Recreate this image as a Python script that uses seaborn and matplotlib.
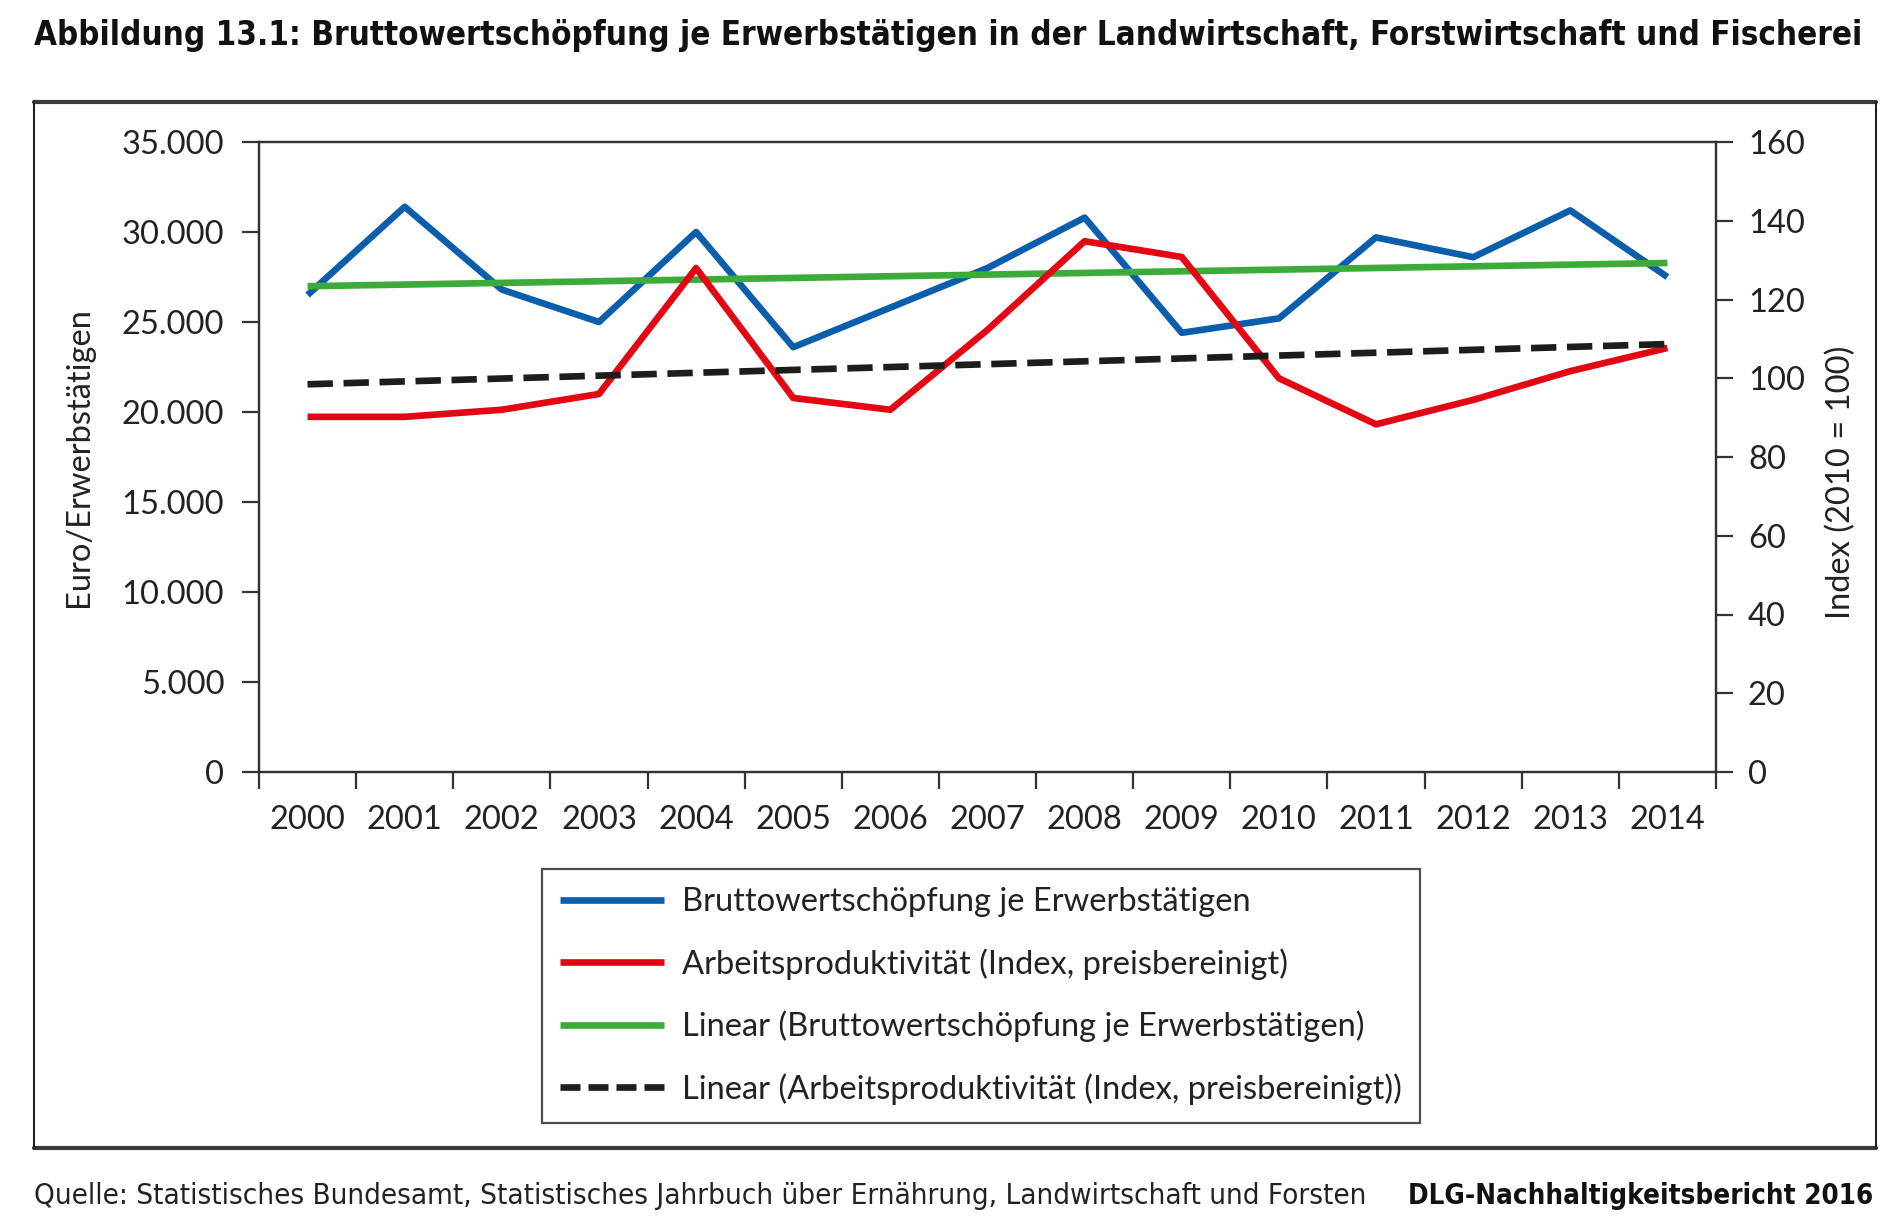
import numpy as np
import pandas as pd
import matplotlib
matplotlib.use("Agg")
import matplotlib.pyplot as plt
import seaborn as sns
from matplotlib.lines import Line2D
from matplotlib.ticker import FixedLocator, FuncFormatter

# ---------------- data ----------------
years = list(range(2000, 2015))
year_labels = [str(y) for y in years]
bruttowertschoepfung = [26500, 31400, 26800, 25000, 30000, 23600, 25800, 28000,
                        30800, 24400, 25200, 29700, 28600, 31200, 27500]
produktivitaet_index = [90.2, 90.2, 92.0, 96.0, 128.0, 95.0, 92.0, 112.3,
                        134.8, 130.8, 100.0, 88.3, 94.5, 101.8, 107.7]
left_ticks = [0, 5000, 10000, 15000, 20000, 25000, 30000, 35000]
right_ticks = [0, 20, 40, 60, 80, 100, 120, 140, 160]
series_labels = [
    "Bruttowertschöpfung je Erwerbstätigen",
    "Arbeitsproduktivität (Index, preisbereinigt)",
    "Linear (Bruttowertschöpfung je Erwerbstätigen)",
    "Linear (Arbeitsproduktivität (Index, preisbereinigt))",
]
title = ("Abbildung 13.1: Bruttowertschöpfung je Erwerbstätigen in der "
         "Landwirtschaft, Forstwirtschaft und Fischerei")
source = ("Quelle: Statistisches Bundesamt, Statistisches Jahrbuch über Ernährung, "
          "Landwirtschaft und Forsten")
brand = "DLG-Nachhaltigkeitsbericht 2016"
left_label = "Euro/Erwerbstätigen"
right_label = "Index (2010 = 100)"

BLUE = "#0a5eab"
RED = "#e30613"
GREEN = "#3cab3a"
BLACK = "#1d1d1b"
SPINE = "#333333"

# ---------------- style ----------------
sns.set_theme(style="white")
plt.rcParams['font.family'] = ['Lato', 'DejaVu Sans']
plt.rcParams['text.color'] = '#222222'

W, H = 1900, 1228
fig = plt.figure(figsize=(W / 100, H / 100), dpi=100)
fig.patch.set_facecolor("white")

x0, x1, y0, y1 = 259, 1716, 142, 772
ax = fig.add_axes([x0 / W, 1 - y1 / H, (x1 - x0) / W, (y1 - y0) / H])
ax2 = ax.twinx()

df = pd.DataFrame({"Jahr": years, "BWS": bruttowertschoepfung, "Index": produktivitaet_index})

LW = 4.8
sns.lineplot(data=df, x="Jahr", y="BWS", ax=ax, color=BLUE, linewidth=LW,
             legend=False, solid_capstyle="butt", zorder=3)
sns.regplot(data=df, x="Jahr", y="BWS", ax=ax, scatter=False, ci=None, color=GREEN,
            line_kws=dict(linewidth=LW, solid_capstyle="butt", zorder=4))
sns.lineplot(data=df, x="Jahr", y="Index", ax=ax2, color=RED, linewidth=LW,
             legend=False, solid_capstyle="butt", zorder=3)
sns.regplot(data=df, x="Jahr", y="Index", ax=ax2, scatter=False, ci=None, color=BLACK,
            line_kws=dict(linewidth=LW, dashes=(3.8, 1.6), dash_capstyle="butt", zorder=4))

ax.set_xlim(years[0] - 0.5, years[-1] + 0.5)
ax.set_ylim(left_ticks[0], left_ticks[-1])
ax2.set_ylim(right_ticks[0], right_ticks[-1])

ax.xaxis.set_major_locator(FixedLocator(years))
ax.set_xticklabels(year_labels)
ax.xaxis.set_minor_locator(FixedLocator([y - 0.5 for y in years] + [years[-1] + 0.5]))
ax.set_yticks(left_ticks)
ax.yaxis.set_major_formatter(FuncFormatter(lambda v, p: f"{v:,.0f}".replace(",", ".")))
ax2.set_yticks(right_ticks)

FS = 23.5
ax.tick_params(axis="x", which="major", length=0, pad=24, labelsize=FS, colors="#222222")
ax.tick_params(axis="x", which="minor", bottom=True, length=12, width=1.6,
               direction="out", color=SPINE)
ax.tick_params(axis="y", left=True, length=12, width=1.6, direction="out",
               color=SPINE, labelsize=FS, pad=13, labelcolor="#222222")
ax2.tick_params(axis="y", right=True, length=12, width=1.6, direction="out",
                color=SPINE, labelsize=FS, pad=11, labelcolor="#222222")

ax.set_xlabel("")
ax.set_ylabel(left_label, fontsize=FS, color="#222222")
ax.yaxis.set_label_coords(-0.113, 0.5)
ax2.set_ylabel(right_label, fontsize=FS, color="#222222")
ax2.yaxis.set_label_coords(1.075, 0.46)

for a in (ax, ax2):
    a.grid(False)
    for s in a.spines.values():
        s.set_visible(True)
        s.set_color(SPINE)
        s.set_linewidth(1.6)

# ---------------- legend ----------------
handles = [
    Line2D([], [], color=BLUE, lw=LW, solid_capstyle="butt"),
    Line2D([], [], color=RED, lw=LW, solid_capstyle="butt"),
    Line2D([], [], color=GREEN, lw=LW, solid_capstyle="butt"),
    Line2D([], [], color=BLACK, lw=LW, dashes=(3.0, 1.2), dash_capstyle="butt"),
]
leg = fig.legend(handles, series_labels, loc="upper left",
                 bbox_to_anchor=(542 / W, 1 - 869 / H), bbox_transform=fig.transFigure,
                 frameon=True, fancybox=False, edgecolor="#222222", fontsize=FS,
                 handlelength=3.2, handletextpad=0.55, labelspacing=0.95,
                 borderpad=0.55, borderaxespad=0)
leg.get_frame().set_linewidth(1.6)

# ---------------- outer frame ----------------
fx0, fx1, fy0, fy1 = 34 / W, 1876 / W, 1 - 1148 / H, 1 - 102 / H
fig.add_artist(Line2D([fx0, fx1], [fy1, fy1], transform=fig.transFigure, color="#3a3a3a", lw=3))
fig.add_artist(Line2D([fx0, fx1], [fy0, fy0], transform=fig.transFigure, color="#3a3a3a", lw=3))
fig.add_artist(Line2D([fx0, fx0], [fy0, fy1], transform=fig.transFigure, color="#222222", lw=1.5))
fig.add_artist(Line2D([fx1, fx1], [fy0, fy1], transform=fig.transFigure, color="#222222", lw=1.5))

# ---------------- texts ----------------
cond = dict(family=["DejaVu Sans"], fontstretch="condensed")
t_title = fig.text(34 / W, 1 - 36 / H, title, ha="left", va="center",
                   fontsize=24, fontweight="bold", color="#111111", **cond)
t_src = fig.text(34 / W, 1 - 1196 / H, source, ha="left", va="center",
                 fontsize=18, color="#222222", **cond)
t_brand = fig.text(1873 / W, 1 - 1196 / H, brand, ha="right", va="center",
                   fontsize=18, fontweight="bold", color="#111111", **cond)

renderer = fig.canvas.get_renderer()
for t, target in ((t_title, 1827), (t_src, 1333), (t_brand, 466)):
    for _ in range(3):
        w = t.get_window_extent(renderer).width
        t.set_fontsize(t.get_fontsize() * target / w)

fig.savefig("out.png", dpi=100, facecolor="white")
